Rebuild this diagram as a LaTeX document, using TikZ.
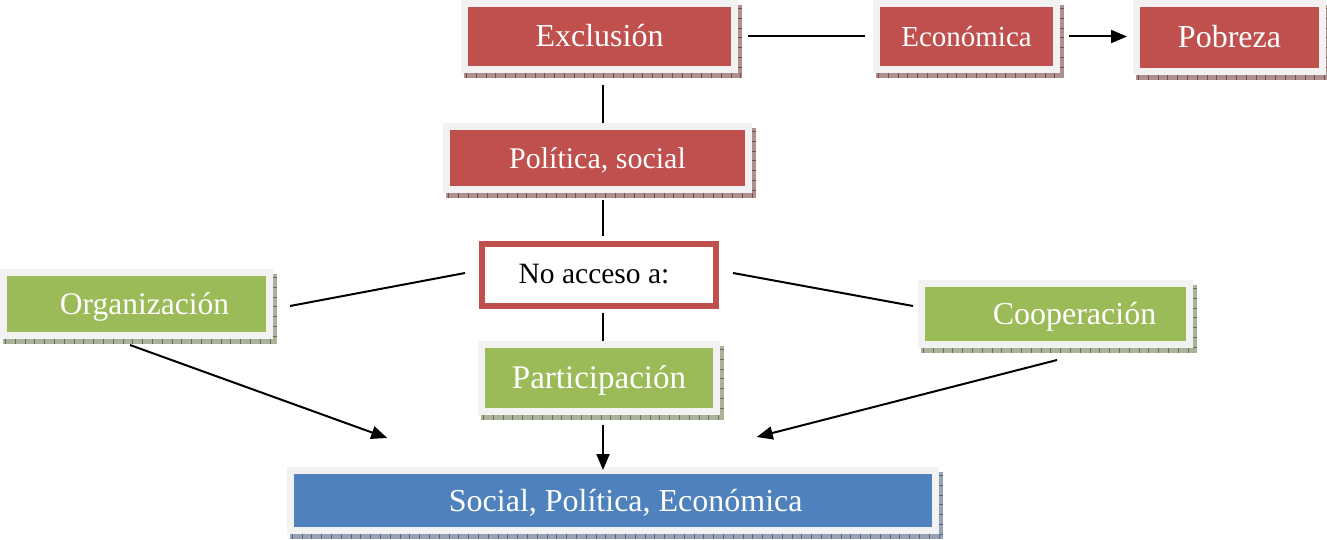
\documentclass[tikz,border=0pt]{standalone}
\usepackage{fontspec}
\setmainfont{Liberation Serif}
\usetikzlibrary{calc,arrows.meta}
\definecolor{boxred}{HTML}{C0504D}
\definecolor{boxgreen}{HTML}{9BBB59}
\definecolor{boxblue}{HTML}{4F81BD}
\definecolor{framegray}{HTML}{F2F2F2}
\definecolor{shred}{HTML}{AD9090}
\definecolor{tkred}{HTML}{7A4848}
\definecolor{shgreen}{HTML}{AAB29B}
\definecolor{tkgreen}{HTML}{66704E}
\definecolor{shblue}{HTML}{97A2B5}
\definecolor{tkblue}{HTML}{56668A}
\newcommand{\fsz}[1]{\fontsize{#1}{#1}\selectfont}
\newcommand{\boxshadow}[3]{%
  \fill[#2] ($(#1.south west)+(3,0)$) rectangle ($(#1.south east)+(4,5)$);
  \fill[#2] ($(#1.north east)+(0,5)$) rectangle ($(#1.south east)+(4,5)$);
  \draw[#3, line width=4.5pt, dash pattern=on 0.8pt off 9pt] ($(#1.south west)+(5,2.5)$) -- ($(#1.south east)+(4,2.5)$);
  \draw[#3, line width=3.5pt, dash pattern=on 0.8pt off 9pt] ($(#1.north east)+(2,8)$) -- ($(#1.south east)+(2,0)$);
}
\tikzset{
  box/.style={draw=framegray, line width=7pt, inner sep=0pt, text=white, anchor=center,
    text height=23pt, text depth=2pt},
  redbox/.style={box, fill=boxred},
  greenbox/.style={box, fill=boxgreen},
  bluebox/.style={box, fill=boxblue},
  accessbox/.style={draw=boxred, line width=6pt, fill=white, inner sep=0pt, text=black, anchor=center,
    text height=20pt, text depth=4pt},
  conn/.style={line width=2pt, draw=black},
  arr/.style={conn, -{Triangle[length=16pt,width=13pt]}},
}
\begin{document}
\begin{tikzpicture}[x=1pt,y=-1pt]
\useasboundingbox (0,0) rectangle (1327,540);

% nodes
\node[redbox, minimum width=270pt, minimum height=66pt, font=\fsz{32}] (excl) at (599.5,36.5) {Exclusión};
\node[redbox, minimum width=180pt, minimum height=66pt, font=\fsz{29}] (econ) at (966.5,36.5) {Económica};
\node[redbox, minimum width=186pt, minimum height=68pt, font=\fsz{32}] (pob) at (1229.5,37.5) {Pobreza};
\node[redbox, minimum width=302pt, minimum height=63pt, font=\fsz{30}] (pol) at (597.5,158) {Política, social};
\node[accessbox, minimum width=234pt, minimum height=62pt, font=\fsz{29.5}] (noacc) at (599,275) {No acceso a:\hspace*{10pt}};
\node[greenbox, minimum width=266pt, minimum height=63pt, font=\fsz{31.5}] (org) at (136.5,304) {\hspace*{16pt}Organización};
\node[greenbox, minimum width=268pt, minimum height=61pt, font=\fsz{32}] (coop) at (1055.5,314) {\hspace*{38pt}Cooperación};
\node[greenbox, minimum width=235pt, minimum height=67pt, font=\fsz{33}] (part) at (599,378) {Participación};
\node[bluebox, minimum width=645pt, minimum height=60pt, font=\fsz{32}] (soc) at (612.75,500.5) {\hspace*{26pt}Social, Política, Económica};

% shadows
\boxshadow{excl}{shred}{tkred}
\boxshadow{econ}{shred}{tkred}
\boxshadow{pob}{shred}{tkred}
\boxshadow{pol}{shred}{tkred}
\boxshadow{org}{shgreen}{tkgreen}
\boxshadow{coop}{shgreen}{tkgreen}
\boxshadow{part}{shgreen}{tkgreen}
\boxshadow{soc}{shblue}{tkblue}

% vertical axis of the central column
\coordinate (ax) at (603,0);

% connectors
\draw[conn, shorten <=10pt, shorten >=8pt] (excl.east) -- (excl.east -| econ.west);
\draw[arr, shorten <=9pt, shorten >=6pt] (econ.east) -- (econ.east -| pob.west);
\draw[conn, shorten <=12pt] (excl.south -| ax) -- (pol.north -| ax);
\draw[conn, shorten <=7pt, shorten >=5pt] (pol.south -| ax) -- (noacc.north -| ax);
\draw[conn, shorten <=4pt] (noacc.south -| ax) -- (part.north -| ax);
\draw[arr, shorten <=10pt, shorten >=-3pt] (part.south -| ax) -- (soc.north -| ax);
\draw[conn] ($(org.east)+(17,2)$) -- ($(noacc.west)+(-14,-2)$);
\draw[conn] ($(noacc.east)+(14,-2)$) -- ($(coop.west)+(-5,-8)$);
\draw[arr] ($(org.south)+(-6.5,6)$) -- ($(soc.north west)+(100.5,-29)$);
\draw[arr] ($(coop.south)+(1.5,12)$) -- ($(soc.north east)+(-182,-30)$);
\end{tikzpicture}
\end{document}
